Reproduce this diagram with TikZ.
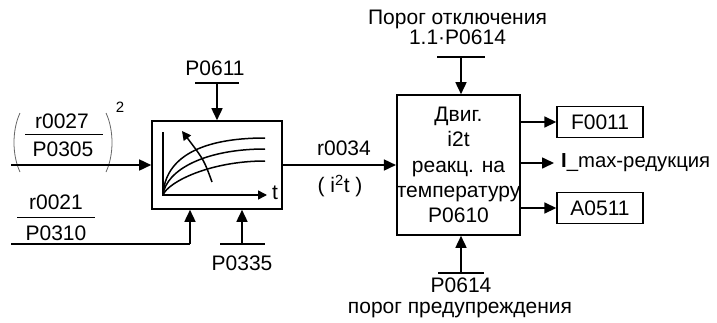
\documentclass[tikz,border=0pt]{standalone}
\usepackage{fontspec}
\setmainfont{Liberation Sans}
\usetikzlibrary{arrows.meta}

\begin{document}
\begin{tikzpicture}[
x=1pt, y=-1pt,
>={Triangle[length=12pt,width=11pt]},
every node/.style={font=\fontsize{21}{25.3}\selectfont, inner sep=0pt},
wire/.style={draw, line width=1.6pt},
signal/.style={->, line width=1.6pt},
bar/.style={draw, line width=1.6pt},
block/.style={draw, line width=1.6pt, fill=white},
outbox/.style={draw, line width=1.4pt, minimum width=86pt, minimum height=31pt},
curve/.style={draw, line width=1.5pt},
paren/.style={draw, line width=0.8pt, gray!80!black}
]

% bounding box
\useasboundingbox (0,0) rectangle (717,322);

% =====================================================
% Blocks
% =====================================================
\node[block, minimum width=130pt, minimum height=88pt] (lbox) at (217,165) {};
\node[block, minimum width=111pt, minimum height=140pt, align=center] (rbox) at (458.5,165)
{Двиг.\\i2t\\реакц. на\\температуру\\P0610};

% Graph inside the left block
\draw[curve, -{Triangle[length=9pt,width=9pt]}] (163,132) -- (163,195) -- (267,195);
\node (labt) at (275,193) {t};
\draw[curve] (163,195) .. controls (165,158) and (200,138) .. (265,138);
\draw[curve] (163,195) .. controls (166,170) and (205,149) .. (265,149);
\draw[curve] (163,195) .. controls (168,182) and (210,161) .. (265,161);
\draw[curve, -{Triangle[length=9pt,width=9pt]}] (212,182) .. controls (204,160) .. (182,131);

% =====================================================
% Inputs of the left block
% =====================================================

% (r0027/P0305)^2
\node (r27) at (62,121) {r0027};
\node (p305) at (63,149) {P0305};
\draw[bar, line width=1pt] (25,134) -- (103,134);
\draw[paren] (20,113) .. controls (12,130) and (12,155) .. (20,172);
\draw[paren] (106,113) .. controls (114,130) and (114,155) .. (106,172);
\node[font=\fontsize{15}{17}\selectfont] (sq) at (120,107) {2};
\coordinate (in1) at (11,165);
\draw[signal] (in1) -- (lbox.west);

% r0021/P0310
\node (r21) at (56,202) {r0021};
\node (p310) at (56,233) {P0310};
\draw[bar, line width=1pt] (17,217) -- (95,217);
\coordinate (in2) at (11,244);
\coordinate (bend) at (190,244);
\draw[wire] (in2) -- (bend);
\draw[signal] (bend) -- (bend |- lbox.south);

% P0611
\node (p611) at (215,68) {P0611};
\draw[bar] (195,83) -- (239,83);
\coordinate (top1) at (217,83);
\draw[signal] (top1) -- (lbox.north);

% P0335
\node (p335) at (242,263) {P0335};
\draw[bar] (220,244) -- (265,244);
\coordinate (bot1) at (242,244);
\draw[signal] (bot1) -- (bot1 |- lbox.south);

% =====================================================
% Link between the blocks
% =====================================================
\draw[signal] (lbox.east) -- (rbox.west);
\node (r34) at (344,148) {r0034};
\node (i2t) at (340,186) {( i\textsuperscript{2}t )};

% =====================================================
% Inputs of the right block
% =====================================================
\node[align=center, font=\fontsize{21}{16.5}\selectfont] (trip) at (457.5,27.5)
{Порог отключения\\1.1·P0614};
\draw[bar] (437,57) -- (485,57);
\coordinate (top2) at (461,57);
\draw[signal] (top2) -- (top2 |- rbox.north);

\node (p614) at (461,285) {P0614};
\node (warn) at (460,310) {порог предупреждения};
\draw[bar] (438,273) -- (484,273);
\coordinate (bot2) at (461,273);
\draw[signal] (bot2) -- (bot2 |- rbox.south);

% =====================================================
% Outputs
% =====================================================
\node[outbox] (f11) at (600,122) {F0011};
\node[outbox] (a511) at (600,208) {A0511};
\node[anchor=west, font=\fontsize{20.3}{24}\selectfont] (imax) at (561,163) {\textbf{I}\_max-редукция};
\coordinate (imaxin) at (554,163);

\draw[signal] (rbox.east |- f11.west) -- (f11.west);
\draw[signal] (rbox.east |- imaxin) -- (imaxin);
\draw[signal] (rbox.east |- a511.west) -- (a511.west);

\end{tikzpicture}
\end{document}
